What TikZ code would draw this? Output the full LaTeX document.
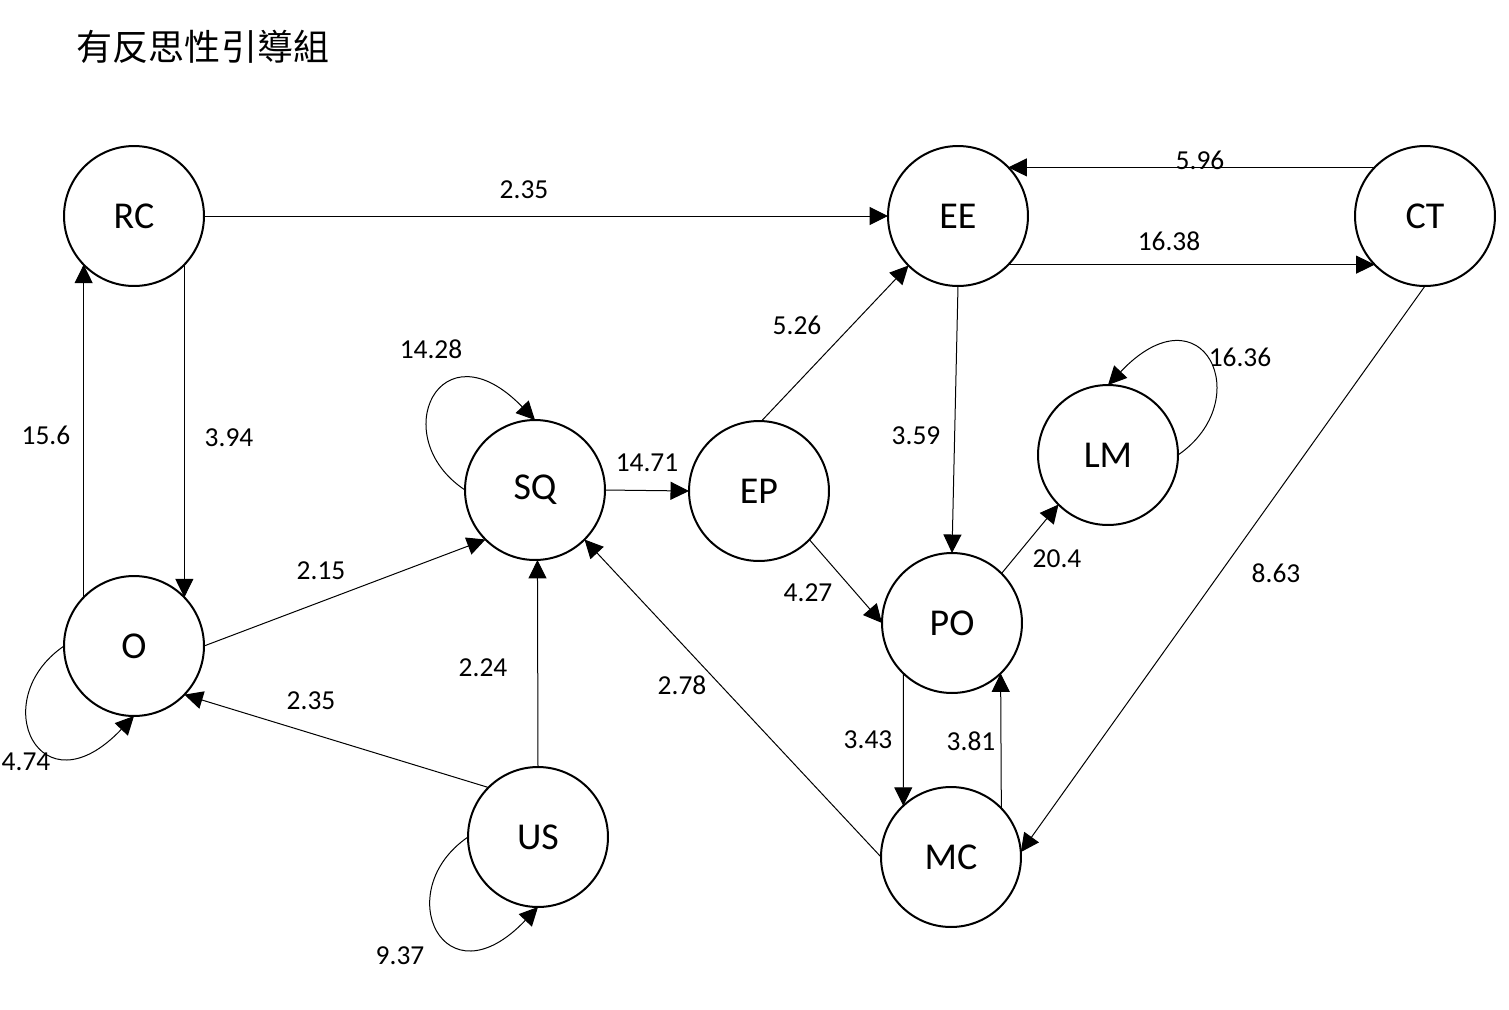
\documentclass[tikz,border=0pt]{standalone}
\usepackage{fontspec}
\setmainfont{Carlito}
\newfontfamily\cjkfont{Noto Sans CJK TC}
\usetikzlibrary{arrows.meta}
\begin{document}
\begin{tikzpicture}[x=0.02cm,y=-0.02cm,
  var/.style={circle,draw,line width=0.04cm,minimum size=2.8cm,inner sep=0pt,outer sep=0pt,font=\fontsize{21.6}{24}\selectfont},
  lab/.style={inner sep=0pt,font=\fontsize{15.6}{18}\selectfont},
  edge/.style={line width=0.02cm,-{Triangle[length=0.37cm,width=0.36cm]}}]
\useasboundingbox[fill=white] (0,0) rectangle (1509,1009);
\node[inner sep=0pt,font=\cjkfont\fontsize{20.5}{24}\selectfont] (title) at (203,47) {有反思性引導組};
\node[var] (RC) at (134,216) {RC};
\node[var] (EE) at (958,216) {EE};
\node[var] (CT) at (1425,216) {CT};
\node[var] (SQ) at (535,490) {SQ};
\node[var] (EP) at (759,491) {EP};
\node[var] (LM) at (1108,455) {LM};
\node[var] (O)  at (134,646) {O};
\node[var] (PO) at (952,623) {PO};
\node[var] (US) at (538,837) {US};
\node[var] (MC) at (951,857) {MC};
\draw[edge] (RC.0) -- (EE.180);
\draw[edge] (CT.136) -- (EE.44);
\draw[edge] (EE.-44) -- (CT.-136);
\draw[edge] (RC.-44) -- (O.44);
\draw[edge] (O.136) -- (RC.-136);
\draw[edge] (O.180) .. controls (-15,700) and (40,815) .. (O.-90);
\draw[edge] (O.0) -- (SQ.-135);
\draw[edge] (US.135) -- (O.-44);
\draw[edge] (US.90) -- (SQ.-88);
\draw[edge] (US.180) .. controls (389,891) and (444,1006) .. (US.-90);
\draw[edge] (SQ.180) .. controls (385,437) and (440,322) .. (SQ.90);
\draw[edge] (SQ.0) -- (EP.180);
\draw[edge] (EP.88) -- (EE.-135);
\draw[edge] (EP.-44) -- (PO.180);
\draw[edge] (EE.-90) -- (PO.90);
\draw[edge] (PO.45) -- (LM.-135);
\draw[edge] (LM.0) .. controls (1258,400) and (1203,285) .. (LM.90);
\draw[edge] (PO.-134) -- (MC.133);
\draw[edge] (MC.44) -- (PO.-46);
\draw[edge] (MC.180) -- (SQ.-45);
\draw[edge] (CT.-90) -- (MC.4);
\node[lab] (l1) at (524,190) {2.35};
\node[lab] (l2) at (1200,160) {5.96};
\node[lab] (l3) at (1169,241) {16.38};
\node[lab] (l4) at (229,438) {3.94};
\node[lab] (l5) at (46,435) {15.6};
\node[lab] (l6) at (26,762) {4.74};
\node[lab] (l7) at (321,571) {2.15};
\node[lab] (l8) at (311,701) {2.35};
\node[lab] (l9) at (483,668) {2.24};
\node[lab] (l10) at (400,956) {9.37};
\node[lab] (l11) at (431,349) {14.28};
\node[lab] (l12) at (647,463) {14.71};
\node[lab] (l13) at (797,325) {5.26};
\node[lab] (l14) at (808,593) {4.27};
\node[lab] (l15) at (916,436) {3.59};
\node[lab] (l16) at (1057,559) {20.4};
\node[lab] (l17) at (1240,357) {16.36};
\node[lab] (l18) at (868,740) {3.43};
\node[lab] (l19) at (971,741) {3.81};
\node[lab] (l20) at (682,685) {2.78};
\node[lab] (l21) at (1276,573) {8.63};
\end{tikzpicture}
\end{document}
